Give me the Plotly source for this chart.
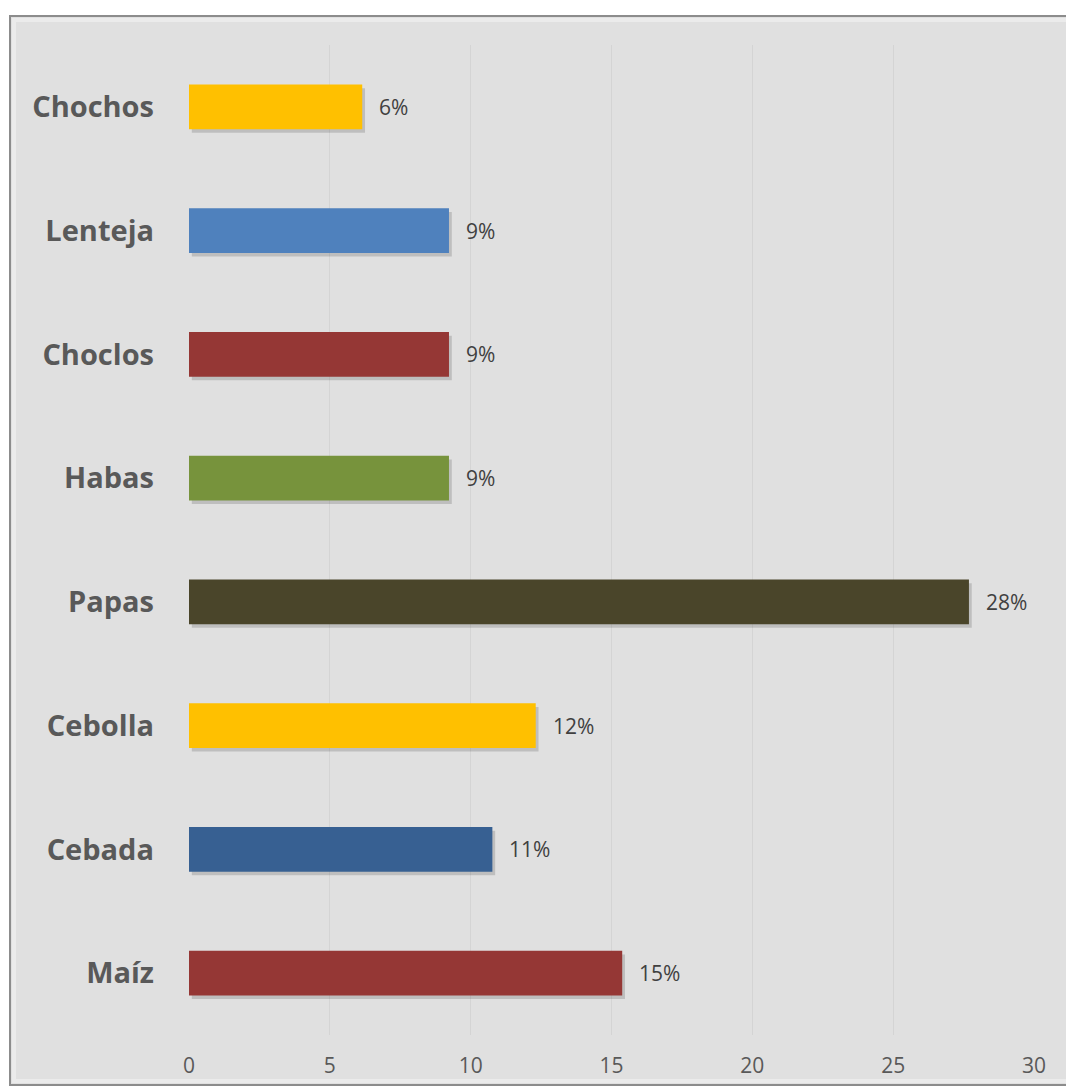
import plotly.graph_objects as go

categories = ["Maíz", "Cebada", "Cebolla", "Papas", "Habas", "Choclos", "Lenteja", "Chochos"]
values = [15.38, 10.77, 12.31, 27.69, 9.23, 9.23, 9.23, 6.15]
labels = ["15%", "11%", "12%", "28%", "9%", "9%", "9%", "6%"]
colors = ["#953735", "#376092", "#FFC000", "#4A452A", "#77933C", "#953735", "#4F81BD", "#FFC000"]
x_ticks = [0, 5, 10, 15, 20, 25, 30]

W, H = 1066, 1091
L, T = 189, 45
R = W - 1034
B = H - 1037
pw, ph = W - L - R, H - T - B

def px_x(p):
    return (p - L) / pw

def px_y(p):
    return 1 - (p - T) / ph

fig = go.Figure()

# soft shadow under bars
fig.add_trace(go.Bar(
    y=categories, x=values, base=0.1, orientation="h",
    width=0.36, offset=-0.18 - 0.03,
    marker=dict(color="rgba(0,0,0,0.15)", line=dict(width=0)),
    hoverinfo="skip", showlegend=False,
))
fig.add_trace(go.Bar(
    y=categories, x=values, orientation="h",
    width=0.36, offset=-0.18,
    marker=dict(color=colors, line=dict(width=0)),
    showlegend=False,
))

for c, v, t in zip(categories, values, labels):
    fig.add_annotation(
        x=v, y=c, xref="x", yref="y", text=t, showarrow=False,
        xanchor="left", yanchor="middle", xshift=15,
        font=dict(family="Open Sans", size=21, color="#404040"),
    )

# outer frame
fig.add_shape(type="rect", xref="paper", yref="paper",
              x0=px_x(10), x1=px_x(1085), y0=px_y(1087), y1=px_y(16),
              fillcolor="#e0e0e0", line=dict(color="#8c8c8c", width=2), layer="below")
fig.add_shape(type="rect", xref="paper", yref="paper",
              x0=px_x(14), x1=px_x(1085), y0=px_y(1083), y1=px_y(20),
              fillcolor="rgba(0,0,0,0)", line=dict(color="#ebebeb", width=4), layer="below")

fig.update_layout(
    width=W, height=H,
    margin=dict(l=L, r=R, t=T, b=B, pad=0),
    paper_bgcolor="white",
    plot_bgcolor="#e0e0e0",
    barmode="overlay",
    xaxis=dict(
        range=[0, 30], tickvals=x_ticks, showgrid=True, gridcolor="#d4d4d4", gridwidth=1,
        zeroline=False, showline=False, ticks="", ticklabelstandoff=16,
        tickfont=dict(family="Open Sans", size=21, color="#595959"),
        fixedrange=True,
    ),
    yaxis=dict(
        categoryorder="array", categoryarray=categories,
        showgrid=False, zeroline=False, showline=False, ticks="", ticklabelstandoff=34,
        tickfont=dict(family="Open Sans", size=29, color="#595959", weight="bold"),
        fixedrange=True,
    ),
)

fig.write_html(
    "out.html",
    config={"displayModeBar": False},
    post_script="document.body.style.margin='0';document.body.style.overflow='hidden';",
)
